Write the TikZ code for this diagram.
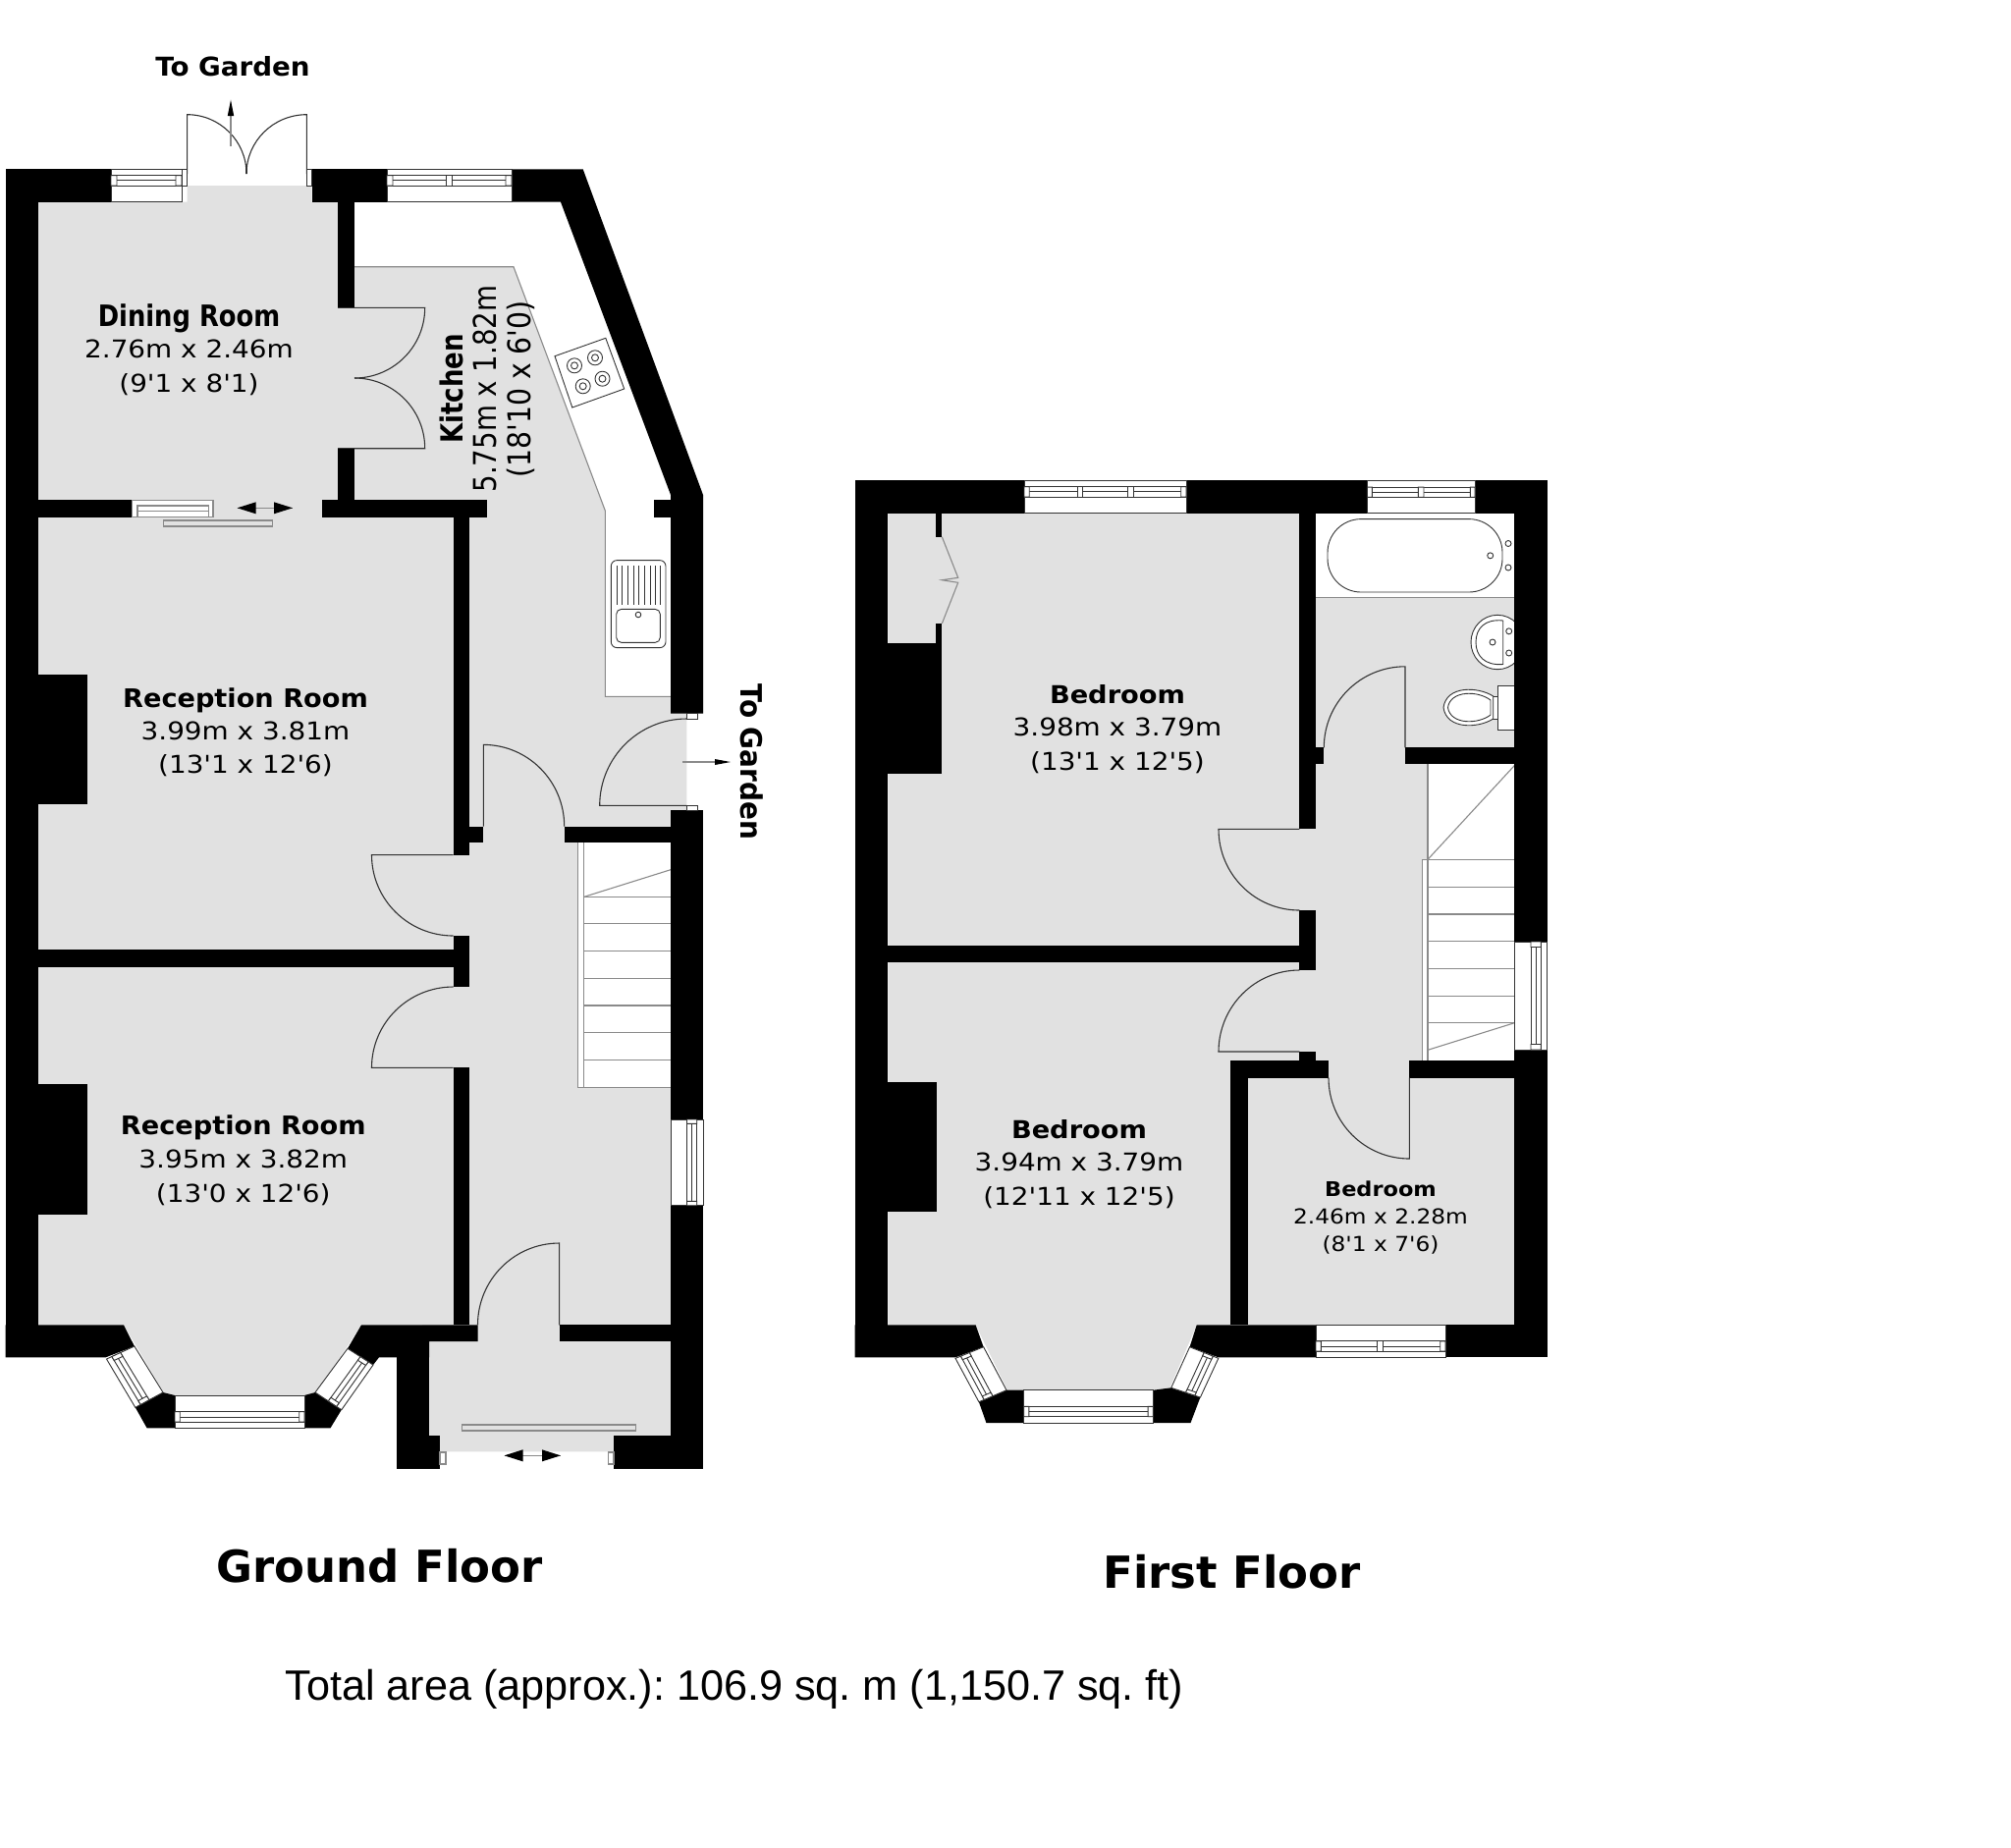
\documentclass[tikz,border=0pt]{standalone}
\usepackage{fontspec}
\usetikzlibrary{calc}
\newfontfamily\planfont{DejaVu Sans}
\newfontfamily\areafont{Liberation Sans}
\definecolor{floorgray}{HTML}{E1E1E1}
\definecolor{edgegray}{HTML}{8A8A8A}
\definecolor{fixline}{HTML}{333333}
\tikzset{
  wall/.style={fill=black,draw=none},
  floorarea/.style={fill=floorgray,draw=none},
  fixture/.style={draw=fixline,line width=0.45pt},
  thinedge/.style={draw=edgegray,line width=0.55pt},
  doorline/.style={draw=fixline,line width=0.55pt},
  ttl/.style={inner sep=0pt,text height=#1*0.73pt,text depth=0pt,font=\planfont\bfseries\fontsize{#1}{#1}\selectfont},
  dim/.style={inner sep=0pt,text height=#1*0.73pt,text depth=0pt,font=\planfont\fontsize{#1}{#1}\selectfont},
}
% door: hinge h, leaf tip a, arc end b
\newcommand\planDoor[6]{%
  \pgfmathsetmacro\dax{#3+0.5523*(#5-#1)}\pgfmathsetmacro\day{#4+0.5523*(#6-#2)}%
  \pgfmathsetmacro\dbx{#5+0.5523*(#3-#1)}\pgfmathsetmacro\dby{#6+0.5523*(#4-#2)}%
  \draw[doorline] (#1,#2) -- (#3,#4) .. controls (\dax,\day) and (\dbx,\dby) .. (#5,#6);}
% window: outer corners A B, inner corners C D, posts u1/u2
\newcommand\planWin[5]{%
  \coordinate (wA) at (#1);\coordinate (wB) at (#2);\coordinate (wC) at (#3);\coordinate (wD) at (#4);
  \draw[fixture,fill=white] (wA)--(wB)--(wC)--(wD)--cycle;
  \coordinate (wa1) at ($(wA)!.19!(wD)$);\coordinate (wb1) at ($(wB)!.19!(wC)$);
  \coordinate (wa2) at ($(wA)!.34!(wD)$);\coordinate (wb2) at ($(wB)!.34!(wC)$);
  \coordinate (wa3) at ($(wA)!.5!(wD)$);\coordinate (wb3) at ($(wB)!.5!(wC)$);
  \draw[fixture] (wa1)--(wb1) (wa2)--(wb2) (wa3)--(wb3);
  \foreach \ua/\ub in {#5}{
    \draw[fixture,fill=white] ($(wa1)!\ua!(wb1)$)--($(wa1)!\ub!(wb1)$)--($(wa3)!\ub!(wb3)$)--($(wa3)!\ua!(wb3)$)--cycle;
  }}
% horizontal double arrow
\newcommand\planDouble[3]{%
  \draw[thinedge] (#1,#3)--(#2,#3);
  \pgfmathsetmacro\hl{#1+19}\pgfmathsetmacro\hr{#2-19}%
  \fill[black] (#1,#3)--(\hl,#3-6)--(\hl,#3+6)--cycle;
  \fill[black] (#2,#3)--(\hr,#3-6)--(\hr,#3+6)--cycle;}
\begin{document}
\begin{tikzpicture}[x=0.5pt,y=-0.5pt]
\useasboundingbox (0,0) rectangle (2048,1881);
\fill[white] (0,0) rectangle (2048,1881);

%%%%% GROUND FLOOR floors
\fill[floorarea] (39,205.7)--(190.6,205.7)--(190.6,189)--(317.6,189)--(317.6,205.7)--(361,205.7)--(361,271.7)--(523,271.7)--(616.3,520)--(616.3,709.4)--(699.3,709.4)--(699.3,1000)--(683,1000)--(683,1478.3)--(430,1478.3)--(430,1349.3)--(368,1349.3)--(321,1421)--(168.5,1421)--(126,1349.3)--(39,1349.3)--cycle;
\draw[thinedge] (361,271.7)--(523,271.7)--(616.3,520)--(616.3,709.4)--(683,709.4);

% hob
\draw[fixture,fill=white] (565,362.7)--(616.8,344.3)--(635.7,396)--(582.8,415)--cycle;
\foreach \bx/\by in {585/372.3,606/364.3,593.7/393.3,613.5/385.7}{
  \draw[fixture] (\bx,\by) circle[radius=7.5];
  \draw[fixture] (\bx,\by) circle[radius=3.5];
}
% sink
\draw[fixture,rounded corners=3pt,fill=white] (622.3,570.6) rectangle (678,659.6);
\draw[fixture,rounded corners=2.5pt] (627.7,620.4) rectangle (672.3,654.3);
\draw[fixture] (650,626) circle[radius=2.8];
\foreach \sx in {628,633.7,639.4,645.1,650.8,656.5,662.2,667.9,672}{\draw[fixture] (\sx,576)--(\sx,615.5);}

% stairs
\fill[white] (588.7,858.4) rectangle (683,1107.4);
\draw[thinedge] (683,1107.4)--(588.7,1107.4)--(588.7,858.4);
\draw[thinedge] (594.3,858.4)--(594.3,1107.4);
\draw[thinedge] (594.3,913.5)--(683,885.7);
\foreach \ty in {913.5,940.8,968.6,996.3,1024,1051.8,1079.6}{\draw[thinedge] (594.3,\ty)--(683,\ty);}

% walls
\fill[wall] (5.7,172.3) rectangle (39,1382.3);
\fill[wall] (5.7,172.3) rectangle (113,205.7);
\fill[wall] (317.6,172.3) rectangle (394,205.7);
\fill[wall] (521,172.3)--(593.7,172.3)--(716,504)--(716,726.5)--(683,726.5)--(683,504)--(571,205.7)--(521,205.7)--cycle;
\fill[wall] (683,825.3) rectangle (716,1140);
\fill[wall] (683,1227.7) rectangle (716,1495.7);
\fill[wall] (666,509) rectangle (683,526.5);
\fill[wall] (344,205.7) rectangle (361,313.3);
\fill[wall] (344,456.7) rectangle (361,510);
\fill[wall] (39,509.3) rectangle (134.5,526.7);
\fill[wall] (327.5,509.3) rectangle (495.5,526.7);
\fill[wall] (461.7,526.7) rectangle (478.3,870.6);
\fill[wall] (461.7,841.6) rectangle (492.3,858.4);
\fill[wall] (574.7,841.6) rectangle (683,858.4);
\fill[wall] (39,967.3) rectangle (461.7,984.5);
\fill[wall] (461.7,953) rectangle (478.3,1005);
\fill[wall] (461.7,1087.3) rectangle (478.3,1349.3);
\fill[wall] (5.7,687) rectangle (89,819);
\fill[wall] (5.7,1104) rectangle (89,1236.7);
\fill[wall] (5.7,1349.3)--(126,1349.3)--(136.9,1371)--(107.6,1382.3)--(5.7,1382.3)--cycle;
\fill[wall] (166,1418)--(178,1421)--(178,1454.3)--(149.6,1454.3)--(137.8,1433.3)--cycle;
\fill[wall] (310,1421)--(321,1418)--(347.8,1435.7)--(336.5,1454.3)--(310,1454.3)--cycle;
\fill[wall] (368,1349.3)--(486.5,1349.3)--(486.5,1366)--(437,1366)--(437,1382.3)--(386,1382.3)--(380,1390)--(354,1373.3)--cycle;
\fill[wall] (403.5,1382) rectangle (437,1462);
\fill[wall] (403.5,1462) rectangle (448,1495.7);
\fill[wall] (625,1462) rectangle (716,1495.7);
\fill[wall] (569.6,1349.3) rectangle (683,1366);

% windows
\planWin{113,172.3}{185,172.3}{185,205.7}{113,205.7}{0/.083,.917/1}
\draw[fixture,fill=white] (185,172.3) rectangle (190.6,189);
\draw[fixture,fill=white] (312.4,172.3) rectangle (317.6,189);
\planWin{394,172.3}{521,172.3}{521,205.7}{394,205.7}{0/.047,.476/.52,.953/1}
\planWin{108.5,1384}{137.8,1433.3}{166,1418}{136.9,1371}{0/.08,.92/1}
\planWin{178,1454.3}{310,1454.3}{310,1421}{178,1421}{0/.04,.96/1}
\planWin{380,1390}{347.8,1435.7}{321,1418}{354,1373.3}{0/.08,.92/1}
\planWin{716,1140}{716,1227.7}{683,1227.7}{683,1140}{0/.05,.95/1}
% sliding window between dining and reception
\draw[thinedge,fill=white] (134.5,509.3) rectangle (217,526.7);
\draw[thinedge] (140,515) rectangle (212.4,526.7);
\draw[thinedge] (140,520.3)--(212.4,520.3);
\draw[thinedge,fill=floorgray] (166.6,530) rectangle (277.5,536);
\planDouble{241.6}{298}{517.3}
% porch slider
\draw[thinedge,fill=floorgray] (470.5,1451) rectangle (647.5,1457);
\planDouble{513.5}{571}{1482.3}
\draw[thinedge,fill=white] (448,1479) rectangle (454,1491);
\draw[thinedge,fill=white] (619.6,1479) rectangle (625,1491);
% back door jambs
\draw[fixture,fill=white] (699.3,726.5) rectangle (710,732);
\draw[fixture,fill=white] (699.3,820.4) rectangle (710,825.3);

% doors
\planDoor{190.6}{177}{190.6}{116.7}{251}{177}
\planDoor{312.4}{177}{312.4}{116.7}{251}{177}
\draw[doorline] (190.6,177)--(190.6,189) (312.4,177)--(312.4,189);
\planDoor{361}{313.3}{432.7}{313.3}{361}{385}
\planDoor{361}{456.7}{432.7}{456.7}{361}{385}
\planDoor{492.3}{841.6}{492.3}{758.4}{574.7}{841.6}
\planDoor{699.3}{820.4}{610.7}{820.4}{699.3}{732}
\planDoor{461.7}{870.6}{378.5}{870.6}{461.7}{953}
\planDoor{461.7}{1087.3}{378.5}{1087.3}{461.7}{1005}
\planDoor{569.6}{1349.3}{569.6}{1266}{486.5}{1349.3}
\draw[doorline] (344,313.3)--(361,313.3) (344,456.7)--(361,456.7);
\draw[doorline] (251,177)--(251,172);

% garden arrows
\draw[thinedge] (235,149)--(235,110);
\fill[black] (235,101.7)--(231.8,118)--(238.2,118)--cycle;
\draw[thinedge] (695,776)--(735,776);
\fill[black] (744,776)--(728,773)--(728,779)--cycle;

%%%%% FIRST FLOOR floors
\fill[floorarea] (904.3,522.7)--(1542.3,522.7)--(1542.3,1349.3)--(1218.7,1349.3)--(1190.3,1415.7)--(1026,1415.7)--(993.6,1349.3)--(904.3,1349.3)--cycle;
% bathroom
\fill[white] (1340.3,522.7) rectangle (1542.3,608.9);
\draw[thinedge] (1340.3,608.9)--(1542.3,608.9);
\draw[fixture,fill=white,rounded corners=17pt] (1352,528.6) rectangle (1530,603);
\foreach \cx/\cy in {1517.7/565.8,1536/553.5,1536/578}{\draw[fixture] (\cx,\cy) circle[radius=3];}
\draw[fixture,fill=white] (1525,654) ellipse[x radius=27,y radius=27.7];
\draw[fixture] (1530.7,632) .. controls (1512,630) and (1503,640) .. (1503,654) .. controls (1503,668) and (1512,678) .. (1530.7,676.5) -- cycle;
\foreach \cx/\cy in {1520/654,1536.7/642.8,1536.7/665}{\draw[fixture] (\cx,\cy) circle[radius=3];}
\draw[fixture,fill=white] (1525.7,698) rectangle (1542.3,743);
\draw[fixture,fill=white] (1520.7,709) rectangle (1525.7,732);
\draw[fixture,fill=white] (1520.7,709) .. controls (1505,699) and (1473,698) .. (1470,720.5) .. controls (1473,743) and (1505,742) .. (1520.7,732) -- cycle;
\draw[fixture] (1518,713) .. controls (1505,703) and (1477,703) .. (1474.5,720.5) .. controls (1477,738) and (1505,738) .. (1518,728) -- cycle;
% stairs
\fill[white] (1454,778.4) rectangle (1542.3,1080);
\fill[white] (1448.3,875.3) rectangle (1454,1080);
\draw[thinedge] (1454,778.4)--(1454,1080);
\draw[thinedge] (1448.3,1080)--(1448.3,875.3)--(1542.3,875.3);
\draw[thinedge] (1454,875.3)--(1542.3,779.6);
\draw[thinedge] (1454,1069.3)--(1542.3,1041.7);
\foreach \ty in {903.3,931,958.7,986.3,1014.4,1041.7}{\draw[thinedge] (1454,\ty)--(1542.3,\ty);}

% walls
\fill[wall] (870.5,489.3) rectangle (904.3,1382.3);
\fill[wall] (870.5,489.3) rectangle (1043,522.7);
\fill[wall] (1208,489.3) rectangle (1392.3,522.7);
\fill[wall] (1502,489.3) rectangle (1575.7,522.7);
\fill[wall] (1542.3,489.3) rectangle (1575.7,959);
\fill[wall] (1542.3,1069) rectangle (1575.7,1382.3);
\fill[wall] (1323.3,522.7) rectangle (1340.3,844.4);
\fill[wall] (1323.3,761.4) rectangle (1348.3,778.4);
\fill[wall] (1431,761.4) rectangle (1542.3,778.4);
\fill[wall] (953.3,522.7) rectangle (959.3,546.7);
\fill[wall] (953.3,635) rectangle (959.3,655.3);
\fill[wall] (870.5,655.3) rectangle (959.3,788.3);
\fill[wall] (904.3,963.4) rectangle (1323.3,980);
\fill[wall] (1323.3,927) rectangle (1340.3,988);
\fill[wall] (1323.3,1070.7) rectangle (1340.3,1080);
\fill[wall] (1253,1080) rectangle (1352.9,1097.7);
\fill[wall] (1435.3,1080) rectangle (1542.3,1097.7);
\fill[wall] (1253,1097) rectangle (1270.6,1349.3);
\fill[wall] (870.5,1101.7) rectangle (954,1234.3);
\fill[wall] (870.5,1349.3)--(993.6,1349.3)--(1001.6,1371.7)--(973,1382.3)--(870.5,1382.3)--cycle;
\fill[wall] (1025,1415.7)--(1042.6,1415.7)--(1042.6,1449)--(1004.4,1449)--(996.9,1427.7)--cycle;
\fill[wall] (1174.3,1415.7)--(1192.7,1413.3)--(1222.4,1423)--(1212.5,1449)--(1174.3,1449)--cycle;
\fill[wall] (1218.7,1349.3)--(1340,1349.3)--(1340,1382.3)--(1240.8,1382.3)--(1211.6,1371.7)--cycle;
\fill[wall] (1472,1349.3) rectangle (1575.7,1382.3);

% windows
\planWin{1043,489.3}{1208,489.3}{1208,522.7}{1043,522.7}{0/.032,.329/.359,.642/.673,.968/1}
\planWin{1392.3,489.9}{1502,489.9}{1502,522.7}{1392.3,522.7}{0/.046,.474/.526,.957/1}
\planWin{1575.7,959}{1575.7,1069}{1542.3,1069}{1542.3,959}{0/.05,.95/1}
\planWin{1340,1382.3}{1472,1382.3}{1472,1349.3}{1340,1349.3}{0/.04,.475/.518,.96/1}
\planWin{1042.6,1449}{1174.3,1449}{1174.3,1415.7}{1042.6,1415.7}{0/.04,.96/1}
\planWin{973,1383.3}{996.9,1427.7}{1025,1415.7}{1001.6,1371.7}{0/.08,.92/1}
\planWin{1240.8,1383.3}{1222.4,1423}{1192.7,1413.3}{1211.6,1371.7}{0/.08,.92/1}

% cupboard doors
\draw[doorline,draw=edgegray] (959.3,546.7)--(975.7,588.3)--(959.3,590.7)--(975.7,593.3)--(959.3,635);
% doors
\planDoor{1431}{761.4}{1431}{678.8}{1348.3}{761.4}
\planDoor{1323.3}{844.4}{1241}{844.4}{1323.3}{927}
\planDoor{1323.3}{1071}{1241}{1071}{1323.3}{988}
\planDoor{1435.3}{1097.7}{1435.3}{1180}{1353}{1097.7}

%%%%% TEXT
\node[ttl=13.2,xscale=1.05] (gardentop) at (237,68) {To Garden};
\node[ttl=15,rotate=-90,xscale=.93] (gardenright) at (765,776) {To Garden};

\node[ttl=15,xscale=.86] (diningname) at (192.5,321.7) {Dining Room};
\node[dim=12.5,xscale=1.115] (diningsize) at (192.5,355.7) {2.76m x 2.46m};
\node[dim=12.5,xscale=1.115] (diningimp) at (192.5,390) {(9'1 x 8'1)};

\node[ttl=15.5,rotate=90,xscale=.84] (kitchenname) at (460,396) {Kitchen};
\node[dim=16,rotate=90,xscale=.865] (kitchensize) at (493.5,396) {5.75m x 1.82m};
\node[dim=16,rotate=90,xscale=.885] (kitchenimp) at (528.5,396.5) {(18'10 x 6'0)};

\node[ttl=13,xscale=1.045] (rec1name) at (250,710.5) {Reception Room};
\node[dim=12.5,xscale=1.115] (rec1size) at (250,744) {3.99m x 3.81m};
\node[dim=12.5,xscale=1.115] (rec1imp) at (250,778) {(13'1 x 12'6)};

\node[ttl=13,xscale=1.045] (rec2name) at (247.8,1145.7) {Reception Room};
\node[dim=12.5,xscale=1.115] (rec2size) at (247.8,1180) {3.95m x 3.82m};
\node[dim=12.5,xscale=1.115] (rec2imp) at (247.8,1215) {(13'0 x 12'6)};

\node[ttl=12.5,xscale=1.09] (bed1name) at (1138,707) {Bedroom};
\node[dim=12.5,xscale=1.115] (bed1size) at (1138,740) {3.98m x 3.79m};
\node[dim=12.5,xscale=1.115] (bed1imp) at (1138,775) {(13'1 x 12'5)};

\node[ttl=12.5,xscale=1.09] (bed2name) at (1099,1150) {Bedroom};
\node[dim=12.5,xscale=1.115] (bed2size) at (1099,1183) {3.94m x 3.79m};
\node[dim=12.5,xscale=1.115] (bed2imp) at (1099,1218) {(12'11 x 12'5)};

\node[ttl=10.3,xscale=1.09] (bed3name) at (1406,1211) {Bedroom};
\node[dim=10.5,xscale=1.11] (bed3size) at (1406,1239) {2.46m x 2.28m};
\node[dim=10.5,xscale=1.11] (bed3imp) at (1406,1267) {(8'1 x 7'6)};

\node[ttl=22.5] (groundtitle) at (386.6,1595) {Ground Floor};
\node[ttl=22.5] (firsttitle) at (1254.5,1601) {First Floor};
\node[inner sep=0pt,text height=15pt,text depth=0pt,font=\areafont\fontsize{21.6}{21.6}\selectfont] (totalarea) at (748,1716) {\frenchspacing Total area (approx.): 106.9 sq. m (1,150.7 sq. ft)};
\end{tikzpicture}
\end{document}
